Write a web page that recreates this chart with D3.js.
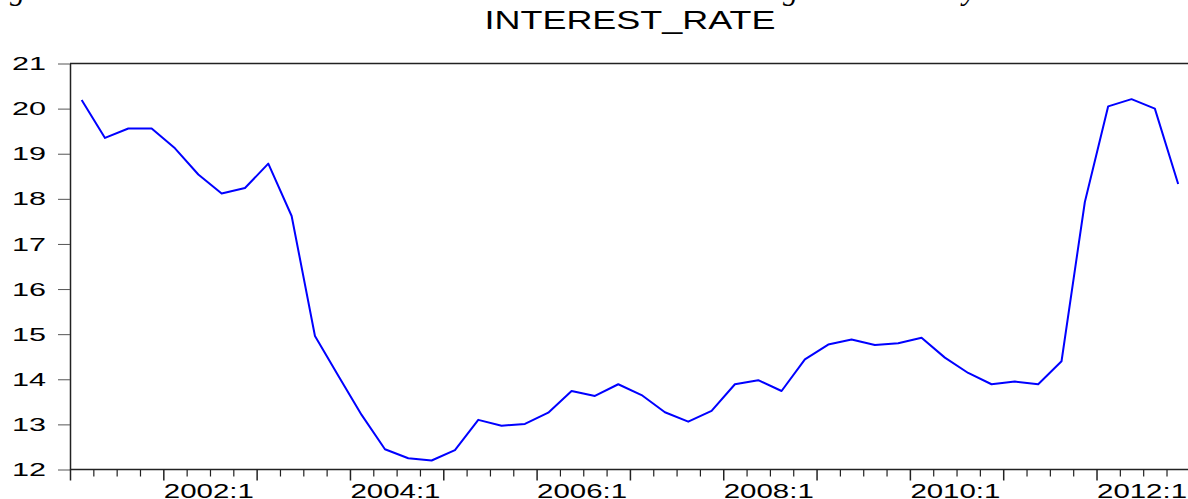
<!DOCTYPE html>
<meta charset="utf-8">
<style>
  body { margin: 0; background: #fff; }
  svg { display: block; }
  text { font-family: "Liberation Sans", Arial, sans-serif; fill: #000; }
</style>
<svg width="1188" height="499"></svg>
<script src="https://cdn.jsdelivr.net/npm/d3@7/dist/d3.min.js"></script>
<script>
  // quarterly series, 2001:1 .. 2012:4
  var startYear = 2001;
  var interestRate = [
    20.19, 19.35, 19.56, 19.56, 19.12, 18.54, 18.12, 18.24,
    18.78, 17.62, 14.96, 14.08, 13.21, 12.45, 12.25, 12.20,
    12.43, 13.10, 12.97, 13.01, 13.26, 13.74, 13.63, 13.89,
    13.65, 13.27, 13.06, 13.30, 13.89, 13.98, 13.74, 14.44,
    14.77, 14.88, 14.76, 14.80, 14.92, 14.48, 14.14, 13.89,
    13.95, 13.89, 14.40, 17.93, 20.05, 20.21, 20.00, 18.33
  ];
  var yTicks = [12, 13, 14, 15, 16, 17, 18, 19, 20, 21];
  var xLabels = ["2002:1", "2004:1", "2006:1", "2008:1", "2010:1", "2012:1"];
  var title = "INTEREST_RATE";

  var svg = d3.select("svg");
  var plotLeft = 70, plotTop = 63.5, plotBottom = 469.5, qw = 23.33;

  var x = d3.scaleLinear()
    .domain([0, interestRate.length])
    .range([plotLeft, plotLeft + interestRate.length * qw]);
  var y = d3.scaleLinear().domain([12, 21]).range([plotBottom, plotTop]);

  // bits of the document text line cut off above the chart
  var cut = svg.append("g");
  [[10, "g"], [783, "g"], [963, "y"]].forEach(function(c) {
    cut.append("text").attr("x", c[0]).attr("y", 0)
      .attr("font-size", 30)
      .style("font-family", "Liberation Serif").style("font-style", "italic").text(c[1]);
  });

  svg.append("text")
    .attr("x", 630).attr("y", 29)
    .attr("text-anchor", "middle")
    .attr("font-size", 25)
    .attr("textLength", 291).attr("lengthAdjust", "spacingAndGlyphs")
    .text(title);

  // frame: top line and left axis
  svg.append("line")
    .attr("x1", plotLeft).attr("x2", 1188).attr("y1", plotTop).attr("y2", plotTop)
    .attr("stroke", "#222").attr("stroke-width", 1.5);

  var yAxis = svg.append("g")
    .attr("transform", "translate(" + plotLeft + ",0)")
    .call(d3.axisLeft(y).tickValues(yTicks).tickSize(12).tickSizeOuter(0).tickPadding(12)
      .tickFormat(d3.format("d")));
  yAxis.select(".domain").attr("stroke", "#222").attr("stroke-width", 1.5);
  yAxis.selectAll(".tick line").attr("stroke", "#555");
  yAxis.selectAll("text")
    .attr("font-size", 19).attr("fill", "#000")
    .attr("textLength", 34).attr("lengthAdjust", "spacingAndGlyphs");

  // quarterly minor ticks
  var quarterTicks = d3.range(0, interestRate.length + 1);
  var xMinor = svg.append("g")
    .attr("transform", "translate(0," + plotBottom + ")")
    .call(d3.axisBottom(x).tickValues(quarterTicks.filter(function(q) { return q % 4; }))
      .tickSize(7).tickFormat(""));
  xMinor.select(".domain").remove();
  xMinor.selectAll(".tick line").attr("stroke", "#222").attr("stroke-width", 1.2);

  // yearly major ticks, labelled every two years
  var xMajor = svg.append("g")
    .attr("transform", "translate(0," + plotBottom + ")")
    .call(d3.axisBottom(x).tickValues(quarterTicks.filter(function(q) { return q % 4 == 0; }))
      .tickSize(11).tickSizeOuter(0)
      .tickFormat(function(q) {
        var lab = (startYear + q / 4) + ":1";
        return xLabels.indexOf(lab) >= 0 ? lab : "";
      }));
  xMajor.select(".domain").attr("stroke", "#222").attr("stroke-width", 1.5)
    .attr("d", "M" + plotLeft + ",0H1188");
  xMajor.selectAll(".tick line").attr("stroke", "#222").attr("stroke-width", 1.5);
  xMajor.selectAll("text")
    .attr("text-anchor", "start").attr("y", 28).attr("dy", 0)
    .attr("font-size", 20).attr("fill", "#000")
    .attr("textLength", function() { return this.textContent ? 90 : null; })
    .attr("lengthAdjust", "spacingAndGlyphs");

  var line = d3.line()
    .x(function(d, i) { return x(i + 0.5); })
    .y(function(d) { return y(d); });

  svg.append("path")
    .datum(interestRate)
    .attr("fill", "none")
    .attr("stroke", "#0000ff")
    .attr("stroke-width", 2)
    .attr("stroke-linejoin", "round")
    .attr("d", line);
</script>
